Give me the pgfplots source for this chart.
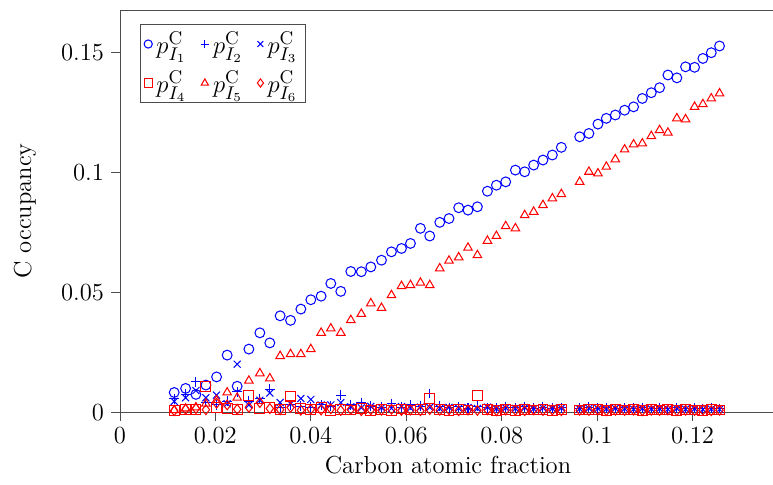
\documentclass[border=0pt]{standalone}
\usepackage{pgfplots}
\usepackage{pgfplotstable}
\pgfplotsset{compat=1.18}

% occupancies of the six interstitial sites against carbon fraction
\pgfplotstableread{
x        I1      I2      I3      I4      I5      I6
0.01137  0.0082  0.0055  0.0045  0.0008  0.0008  0.0006
0.01376  0.0099  0.0075  0.0060  0.0010  0.0015  0.0012
0.01592  0.0074  0.0126  0.0090  0.0012  0.0020  0.0015
0.01801  0.0113  0.0040  0.0060  0.0108  0.0035  0.0010
0.02025  0.0147  0.0030  0.0071  0.0020  0.0050  0.0037
0.02247  0.0238  0.0045  0.0035  0.0015  0.0082  0.0030
0.02457  0.0108  0.0085  0.0200  0.0010  0.0060  0.0012
0.02702  0.0263  0.0045  0.0030  0.0070  0.0131  0.0020
0.02932  0.0331  0.0057  0.0050  0.0015  0.0162  0.0040
0.03141  0.0289  0.0095  0.0080  0.0020  0.0141  0.0015
0.03357  0.0402  0.0020  0.0040  0.0012  0.0234  0.0010
0.03575  0.0383  0.0030  0.0035  0.0067  0.0242  0.0020
0.03791  0.0430  0.0025  0.0057  0.0015  0.0242  0.0008
0.04000  0.0469  0.0020  0.0053  0.0010  0.0263  0.0012
0.04216  0.0484  0.0030  0.0030  0.0018  0.0331  0.0009
0.04419  0.0537  0.0025  0.0030  0.0008  0.0349  0.0014
0.04628  0.0504  0.0071  0.0040  0.0012  0.0331  0.0007
0.04838  0.0587  0.0030  0.0022  0.0009  0.0384  0.0011
0.05058  0.0586  0.0040  0.0018  0.0014  0.0410  0.0006
0.05257  0.0606  0.0025  0.0024  0.0007  0.0454  0.0010
0.05481  0.0634  0.0020  0.0019  0.0011  0.0435  0.0008
0.05690  0.0669  0.0035  0.0016  0.0008  0.0488  0.0012
0.05900  0.0683  0.0020  0.0023  0.0013  0.0526  0.0007
0.06088  0.0704  0.0030  0.0017  0.0009  0.0530  0.0009
0.06297  0.0767  0.0025  0.0021  0.0012  0.0540  0.0006
0.06492  0.0735  0.0078  0.0020  0.0057  0.0530  0.0011
0.06702  0.0792  0.0025  0.0015  0.0010  0.0600  0.0008
0.06896  0.0808  0.0018  0.0020  0.0007  0.0632  0.0010
0.07099  0.0853  0.0022  0.0016  0.0011  0.0646  0.0006
0.07294  0.0843  0.0017  0.0019  0.0009  0.0686  0.0009
0.07491  0.0857  0.0024  0.0015  0.0071  0.0655  0.0007
0.07701  0.0922  0.0019  0.0021  0.0010  0.0715  0.0010
0.07889  0.0947  0.0016  0.0014  0.0008  0.0735  0.0006
0.08084  0.0961  0.0021  0.0018  0.0012  0.0776  0.0009
0.08287  0.1010  0.0018  0.0015  0.0007  0.0767  0.0008
0.08482  0.1003  0.0023  0.0019  0.0010  0.0822  0.0006
0.08670  0.1031  0.0017  0.0014  0.0009  0.0836  0.0010
0.08865  0.1052  0.0020  0.0018  0.0011  0.0864  0.0007
0.09062  0.1073  0.0016  0.0015  0.0008  0.0892  0.0009
0.09250  0.1105  0.0019  0.0017  0.0010  0.0910  0.0006
0.09634  0.1149  0.0017  0.0014  0.0009  0.0961  0.0008
0.09828  0.1163  0.0021  0.0016  0.0012  0.1003  0.0007
0.10017  0.1202  0.0016  0.0015  0.0010  0.0996  0.0009
0.10193  0.1226  0.0019  0.0013  0.0008  0.1024  0.0006
0.10381  0.1240  0.0015  0.0016  0.0011  0.1055  0.0008
0.10576  0.1260  0.0018  0.0014  0.0009  0.1096  0.0007
0.10764  0.1274  0.0016  0.0012  0.0010  0.1117  0.0009
0.10947  0.1309  0.0019  0.0015  0.0008  0.1121  0.0006
0.11135  0.1333  0.0015  0.0013  0.0011  0.1152  0.0008
0.11309  0.1354  0.0017  0.0014  0.0009  0.1177  0.0007
0.11483  0.1407  0.0014  0.0012  0.0010  0.1166  0.0009
0.11671  0.1395  0.0018  0.0015  0.0008  0.1226  0.0006
0.11853  0.1441  0.0015  0.0012  0.0011  0.1222  0.0008
0.12042  0.1439  0.0017  0.0014  0.0009  0.1274  0.0007
0.12216  0.1476  0.0014  0.0011  0.0008  0.1285  0.0009
0.12392  0.1500  0.0016  0.0013  0.0010  0.1309  0.0006
0.12565  0.1528  0.0015  0.0012  0.0009  0.1330  0.0008
}\occupancy

\begin{document}
\begin{tikzpicture}
\begin{axis}[
  at={(0,0)}, anchor=south west,
  scale only axis,
  width=320pt, height=196.1pt,
  xmin=0, xmax=0.1375,
  ymin=0, ymax=0.1678,
  xtick={0,0.02,0.04,0.06,0.08,0.1,0.12},
  ytick={0,0.05,0.1,0.15},
  scaled ticks=false,
  tick pos=left,
  tick align=outside,
  ticklabel style={font=\large, /pgf/number format/fixed, /pgf/number format/precision=2},
  axis line style={black!70},
  every tick/.style={black!70},
  xlabel={Carbon atomic fraction},
  ylabel={C occupancy},
  label style={font=\large},
  xlabel style={at={(axis description cs:0.5,-0.132)}, anchor=center},
  ylabel style={at={(axis description cs:-0.1447,0.5)}, anchor=center},
  mark size=2.4pt,
  every axis plot/.append style={line width=0.5pt},
  legend columns=3,
  % a narrow legend image holding a single, slightly smaller mark
  legend image code/.code={%
    \draw[mark size=2pt, line width=0.5pt, mark repeat=2, mark phase=2]
      plot coordinates {(0cm,0cm) (0.14cm,0cm) (0.28cm,0cm)};},
  legend style={at={(0.03,0.965)}, anchor=north west, draw=black!70,
    font=\fontsize{12.6}{15}\selectfont, inner xsep=2pt, inner ysep=1.5pt, row sep=3pt,
    /tikz/every even column/.append style={column sep=5pt}},
  legend cell align=left,
]
\addplot[only marks, blue, mark=o] table[x=x, y=I1] {\occupancy};
\addlegendentry{$p^{\mathrm{C}}_{I_1}$}
\addplot[only marks, blue, mark=+] table[x=x, y=I2] {\occupancy};
\addlegendentry{$p^{\mathrm{C}}_{I_2}$}
\addplot[only marks, blue, mark=x] table[x=x, y=I3] {\occupancy};
\addlegendentry{$p^{\mathrm{C}}_{I_3}$}
\addplot[only marks, red, mark=square] table[x=x, y=I4] {\occupancy};
\addlegendentry{$p^{\mathrm{C}}_{I_4}$}
\addplot[only marks, red, mark=triangle] table[x=x, y=I5] {\occupancy};
\addlegendentry{$p^{\mathrm{C}}_{I_5}$}
\addplot[only marks, red, mark=diamond] table[x=x, y=I6] {\occupancy};
\addlegendentry{$p^{\mathrm{C}}_{I_6}$}
\end{axis}
\pgfresetboundingbox
\path[use as bounding box] (-58.5pt,-35.1pt) rectangle (318.5pt,201pt);
\end{tikzpicture}
\end{document}
